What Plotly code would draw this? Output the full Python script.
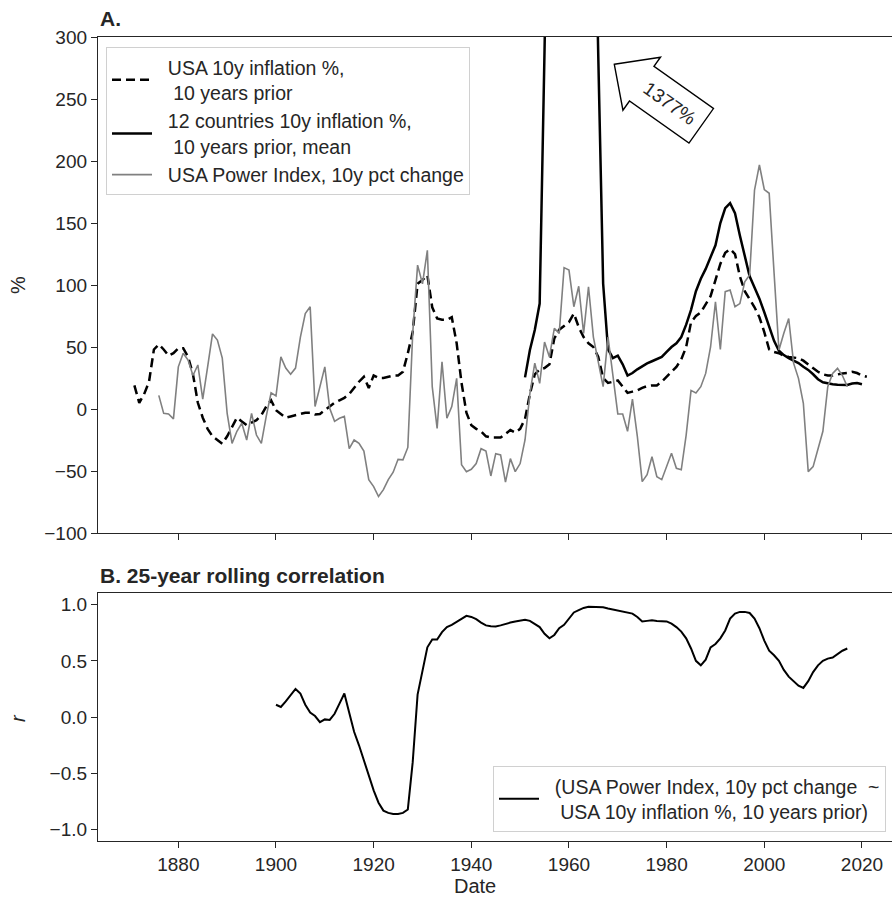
import math
import plotly.graph_objects as go

# ---------------- data ----------------
usa_years = list(range(1871, 2022))
usa_infl = [19, 5, 12, 22, 48, 52, 48, 43, 45, 49,
            49, 42, 28, 5, -7, -16, -22, -25, -28, -22,
            -14, -7, -10, -13, -11, -9, -5, 2, 7, -1,
            -4, -7, -6, -5, -3.5, -3, -3, -4.5, -4, -1,
            2, 5, 7, 9, 12, 17, 22, 26, 17, 27,
            25, 25, 26, 27, 27, 30, 45, 62, 101, 104,
            108, 82, 73, 72, 72, 74, 53, 21, -3, -13,
            -16, -18, -22, -23, -23, -23, -20, -17, -19, -16,
            -8, 12, 28, 32, 33, 36, 57, 64, 67, 70,
            77, 66, 58, 53, 50, 42, 25, 21, 22, 23,
            18, 13, 14, 15, 17, 18.5, 19, 19, 22, 26,
            30, 34, 40, 50, 70, 75, 78, 84, 91, 104,
            117, 126, 129, 125, 107, 95, 89, 82, 74, 62,
            48, 46, 45, 43, 42, 41.5, 41, 39, 36, 33,
            30, 28, 27, 27, 28, 28.7, 29, 30, 29, 27,
            26]

c12_years = list(range(1951, 2021))
c12_infl = [25.5, 47.6, 63.7, 85, 290, 520, 800, 1100, 1300, 1377,
            1250, 1000, 780, 620, 480, 285, 101, 48, 41, 43,
            36, 27, 29, 32, 34.5, 36.8, 38.5, 40, 42, 46,
            50, 53, 58, 68, 80, 95, 105, 113, 122, 132,
            150, 162, 166, 158, 140, 124, 107, 98, 89, 78,
            66, 55, 47, 43.5, 41, 39, 37, 34, 31.5, 28,
            24, 21.5, 20.5, 20, 19.5, 19.5, 19.4, 20.5, 21, 20]

power_years = list(range(1876, 2018))
power_chg = [11, -3.5, -4, -8, 34, 45, 39.5, 27, 35.5, 8,
             34, 60.5, 55.6, 41, -3.5, -27.7, -18, -11.5, -25, -3.5,
             -21, -27.7, -6, 13, 10.5, 42, 33, 28, 33, 58,
             77, 82.5, 2, 18, 34, 0.5, -10, -7.5, -6, -32,
             -25, -27.7, -34, -57, -62.6, -70.6, -65, -57, -51, -40.6,
             -41, -31, 61, 116, 101, 128, 18, -15.6, 38, -7.5,
             2, 24.7, -45, -50.5, -48.6, -44, -32, -34, -54, -36,
             -37, -59, -40, -50.5, -44, -25, 12.6, 37, 20.7, 54,
             42, 65, 61, 114, 112, 82.5, 99, 61, 98.6, 58,
             37, 18, 58, 28.7, -4, -4, -18, 8, -22, -58.6,
             -53, -38.5, -54.6, -57, -46.5, -35.7, -47.8, -49, -21, 15,
             13, 18, 28.7, 50, 86.5, 48, 94.6, 96, 82.5, 85,
             102.6, 108, 176.6, 196.8, 177, 174, 110, 47.6, 61, 73,
             37, 24.7, 4.6, -50.5, -46.5, -33, -18, 18, 28.7, 32.8,
             27, 18]

corr_years = list(range(1900, 2018))
corr_r = [0.11, 0.09, 0.14, 0.19, 0.25, 0.21, 0.11, 0.04, 0.01, -0.045,
          -0.02, -0.025, 0.03, 0.12, 0.21, 0.04, -0.13, -0.25, -0.39, -0.52,
          -0.65, -0.76, -0.83, -0.85, -0.86, -0.86, -0.85, -0.82, -0.40, 0.20,
          0.40, 0.62, 0.69, 0.69, 0.755, 0.80, 0.82, 0.845, 0.87, 0.90,
          0.89, 0.87, 0.84, 0.815, 0.808, 0.805, 0.815, 0.83, 0.84, 0.85,
          0.86, 0.865, 0.855, 0.83, 0.80, 0.74, 0.70, 0.73, 0.79, 0.82,
          0.88, 0.93, 0.95, 0.97, 0.98, 0.98, 0.978, 0.975, 0.965, 0.955,
          0.948, 0.94, 0.93, 0.92, 0.89, 0.85, 0.855, 0.86, 0.855, 0.853,
          0.85, 0.83, 0.80, 0.76, 0.70, 0.61, 0.50, 0.46, 0.51, 0.62,
          0.65, 0.70, 0.77, 0.875, 0.92, 0.935, 0.935, 0.925, 0.875, 0.79,
          0.68, 0.59, 0.55, 0.50, 0.42, 0.36, 0.32, 0.28, 0.26, 0.32,
          0.40, 0.46, 0.50, 0.52, 0.53, 0.56, 0.59, 0.61]

x_ticks = [1880, 1900, 1920, 1940, 1960, 1980, 2000, 2020]
y_ticks_a = [-100, -50, 0, 50, 100, 150, 200, 250, 300]
y_ticks_b = [-1.0, -0.5, 0.0, 0.5, 1.0]
peak_label = "1377%"

# ---------------- figure ----------------
W, H = 892, 899
ML, MR, MT, MB = 98, 0, 37, 58
PW, PH = W - ML - MR, H - MT - MB
FONT = "Liberation Sans, Arial, Helvetica, sans-serif"
INK = "#262626"
TICK_FS = 19
LEG_FS = 19.5
TITLE_FS = 21
LABEL_FS = 20
NB = "\u00a0"


def px2paper(px, py):
    return (px - ML) / PW, (H - MB - py) / PH


fig = go.Figure()

fig.add_trace(go.Scatter(
    x=usa_years, y=usa_infl, mode="lines",
    name=NB * 2 + "USA 10y inflation %,<br>" + NB * 3 + "10 years prior",
    line=dict(color="black", width=2.5, dash="9px,5px"),
    xaxis="x", yaxis="y", legend="legend"))
fig.add_trace(go.Scatter(
    x=c12_years, y=c12_infl, mode="lines",
    name=NB * 2 + "12 countries 10y inflation %,<br>" + NB * 3 + "10 years prior, mean",
    line=dict(color="black", width=2.5),
    xaxis="x", yaxis="y", legend="legend"))
fig.add_trace(go.Scatter(
    x=power_years, y=power_chg, mode="lines",
    name=NB * 2 + "USA Power Index, 10y pct change",
    line=dict(color="#808080", width=1.6),
    xaxis="x", yaxis="y", legend="legend"))
fig.add_trace(go.Scatter(
    x=corr_years, y=corr_r, mode="lines",
    name=NB * 2 + "(USA Power Index, 10y pct change" + NB * 2 + "~<br>"
         + NB * 3 + "USA 10y inflation %, 10 years prior)",
    line=dict(color="black", width=2),
    xaxis="x2", yaxis="y2", legend="legend2"))

x_rng = [1863.55, 1863.55 + PW / 4.883]
top_dom = [(H - MB - 533) / PH, 1.0]
bot_dom = [0.0, (H - MB - 593.3) / PH]

axis_common = dict(showgrid=False, zeroline=False, showline=True,
                   linecolor=INK, linewidth=1.25, ticks="outside",
                   ticklen=6, tickwidth=1.25, tickcolor=INK,
                   tickfont=dict(family=FONT, size=TICK_FS, color=INK))

fig.update_layout(
    width=W, height=H,
    margin=dict(l=ML, r=MR, t=MT, b=MB, autoexpand=False),
    paper_bgcolor="white", plot_bgcolor="white",
    font=dict(family=FONT, size=TICK_FS, color=INK),
    xaxis=dict(domain=[0, 1], anchor="y", range=x_rng, tickvals=x_ticks,
               showticklabels=False, mirror=True, **axis_common),
    yaxis=dict(domain=top_dom, anchor="x", range=[-100, 300],
               tickvals=y_ticks_a, **axis_common),
    xaxis2=dict(domain=[0, 1], anchor="y2", range=x_rng, tickvals=x_ticks,
                mirror=True, **axis_common),
    yaxis2=dict(domain=bot_dom, anchor="x2", range=[-1.1, 1.1],
                tickvals=y_ticks_b, tickformat=".1f", **axis_common),
    legend=dict(x=px2paper(106, 0)[0], y=px2paper(0, 47)[1],
                xanchor="left", yanchor="top", itemwidth=40,
                bgcolor="rgba(255,255,255,0.85)", bordercolor="#d0d0d0",
                borderwidth=1, font=dict(family=FONT, size=LEG_FS, color=INK),
                tracegroupgap=0),
    legend2=dict(x=px2paper(493, 0)[0], y=px2paper(0, 832)[1],
                 xanchor="left", yanchor="bottom", itemwidth=40,
                 bgcolor="rgba(255,255,255,0.85)", bordercolor="#d0d0d0",
                 borderwidth=1, font=dict(family=FONT, size=LEG_FS, color=INK)),
    showlegend=True,
)

# text labels
ann = []
ax_, ay_ = px2paper(98, 18)
ann.append(dict(text="<b>A.</b>", x=ax_, y=ay_, xref="paper", yref="paper",
                xanchor="left", yanchor="middle", showarrow=False,
                font=dict(family=FONT, size=TITLE_FS, color=INK)))
bx_, by_ = px2paper(98, 576)
ann.append(dict(text="<b>B. 25-year rolling correlation</b>", x=bx_, y=by_,
                xref="paper", yref="paper", xanchor="left", yanchor="middle",
                showarrow=False, font=dict(family=FONT, size=TITLE_FS, color=INK)))
px_, py_ = px2paper(18, 285)
ann.append(dict(text="%", x=px_, y=py_, xref="paper", yref="paper",
                xanchor="center", yanchor="middle", textangle=-90,
                showarrow=False, font=dict(family=FONT, size=LABEL_FS, color=INK)))
rx_, ry_ = px2paper(18, 718)
ann.append(dict(text="<i>r</i>", x=rx_, y=ry_, xref="paper", yref="paper",
                xanchor="center", yanchor="middle", textangle=-90,
                showarrow=False, font=dict(family=FONT, size=LABEL_FS, color=INK)))
dx_, dy_ = px2paper(475, 886)
ann.append(dict(text="Date", x=dx_, y=dy_, xref="paper", yref="paper",
                xanchor="center", yanchor="middle", showarrow=False,
                font=dict(family=FONT, size=LABEL_FS, color=INK)))

# arrow-shaped label box pointing toward the clipped peak
tip = (614.3, 64.3)
ang = math.radians(35.3)
head_len, head_half, shaft_half, total_len = 33.6, 32.5, 21.2, 106.5
u = (math.cos(ang), math.sin(ang))
n = (-math.sin(ang), math.cos(ang))


def pt(along, across):
    return (tip[0] + along * u[0] + across * n[0],
            tip[1] + along * u[1] + across * n[1])


poly = [pt(0, 0), pt(head_len, -head_half), pt(head_len, -shaft_half),
        pt(total_len, -shaft_half), pt(total_len, shaft_half),
        pt(head_len, shaft_half), pt(head_len, head_half)]
path = "M " + " L ".join("%.5f,%.5f" % px2paper(*p) for p in poly) + " Z"
fig.add_shape(type="path", path=path, xref="paper", yref="paper",
              line=dict(color="black", width=1.4), fillcolor="white", layer="above")
tx_, ty_ = px2paper(*pt((head_len + total_len) / 2 - 2, 0))
ann.append(dict(text=peak_label, x=tx_, y=ty_, xref="paper", yref="paper",
                xanchor="center", yanchor="middle", textangle=35.3,
                showarrow=False, font=dict(family=FONT, size=19, color=INK)))

fig.update_layout(annotations=ann)

fig.write_html("out.html",
               config={"displayModeBar": False},
               post_script="document.body.style.margin='0px';"
                           "document.body.style.overflow='hidden';")
